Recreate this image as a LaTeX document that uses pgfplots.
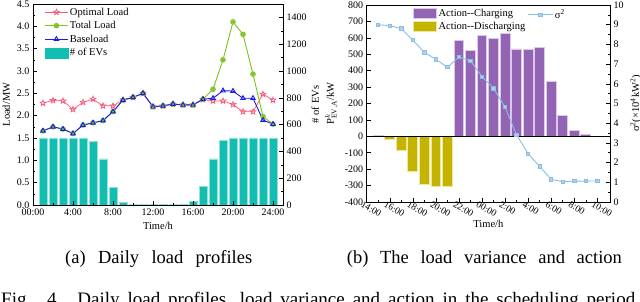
\documentclass[border=0pt]{standalone}
\usepackage{fontspec}
\setmainfont{Liberation Serif}
\usepackage{pgfplots}
\pgfplotsset{compat=1.18}
\definecolor{optc}{HTML}{F4587A}
\definecolor{totc}{HTML}{7DC21E}
\definecolor{basec}{HTML}{1A1AF0}
\definecolor{evc}{HTML}{12BDB2}
\definecolor{chc}{HTML}{9464B4}
\definecolor{chl}{HTML}{DCC8EA}
\definecolor{dic}{HTML}{C4B400}
\definecolor{dil}{HTML}{EFE7A0}
\definecolor{sigc}{HTML}{8BBEE2}
\pgfdeclareplotmark{ostar}{%
  \pgfpathmoveto{\pgfpointpolar{90}{\pgfplotmarksize}}%
  \pgfpathlineto{\pgfpointpolar{126}{0.42\pgfplotmarksize}}%
  \pgfpathlineto{\pgfpointpolar{162}{\pgfplotmarksize}}%
  \pgfpathlineto{\pgfpointpolar{198}{0.42\pgfplotmarksize}}%
  \pgfpathlineto{\pgfpointpolar{234}{\pgfplotmarksize}}%
  \pgfpathlineto{\pgfpointpolar{270}{0.42\pgfplotmarksize}}%
  \pgfpathlineto{\pgfpointpolar{306}{\pgfplotmarksize}}%
  \pgfpathlineto{\pgfpointpolar{342}{0.42\pgfplotmarksize}}%
  \pgfpathlineto{\pgfpointpolar{18}{\pgfplotmarksize}}%
  \pgfpathlineto{\pgfpointpolar{54}{0.42\pgfplotmarksize}}%
  \pgfpathclose
  \pgfusepathqstroke}
\pgfdeclareplotmark{oast}{%
  \pgfpathcircle{\pgfpointorigin}{\pgfplotmarksize}%
  \pgfusepathqfillstroke
  \pgfpathmoveto{\pgfpointpolar{90}{\pgfplotmarksize}}\pgfpathlineto{\pgfpointpolar{270}{\pgfplotmarksize}}%
  \pgfpathmoveto{\pgfpointpolar{30}{\pgfplotmarksize}}\pgfpathlineto{\pgfpointpolar{210}{\pgfplotmarksize}}%
  \pgfpathmoveto{\pgfpointpolar{150}{\pgfplotmarksize}}\pgfpathlineto{\pgfpointpolar{330}{\pgfplotmarksize}}%
  \pgfusepathqstroke}
\begin{document}
\begin{tikzpicture}[x=1pt,y=1pt]
\path[use as bounding box] (0,0) rectangle (640,302);
\clip (0,0) rectangle (640,302);
\pgfplotsset{
  every axis/.append style={
    scale only axis,
    tick label style={font=\fontsize{10}{12}\selectfont},
    label style={font=\fontsize{10.5}{12}\selectfont},
    /pgf/number format/assume math mode=true,
    /pgf/number format/1000 sep={},
    tick style={black, line width=0.5pt},
    major tick length=4pt, minor tick length=2pt,
    axis line style={line width=0.7pt},
    legend cell align=left,
  },
  lineleg/.style={legend image code/.code={\draw[mark repeat=2,mark phase=2] plot coordinates {(0pt,0pt) (11.5pt,0pt) (23pt,0pt)};}},
}
% ---------- (a) left chart: EV bars on right axis
\begin{axis}[
  at={(33pt,97pt)}, anchor=south west, width=250pt, height=201pt,
  xmin=0, xmax=25, ymin=0, ymax=1500,
  xtick=\empty,
  ytick={0,200,...,1400}, minor y tick num=1, ytick pos=right, yticklabel pos=right,
  ylabel={\# of EVs}, ylabel style={yshift=2pt},
]
\addplot[ybar, bar shift=0pt, bar width=0.8, fill=evc, draw=evc!45!white, line width=0.4pt]
coordinates {(1,500)(2,500)(3,500)(4,500)(5,500)(6,475)(7,345)(8,130)(9,20)(10,4)(11,4)(12,4)(13,4)(14,4)(15,4)(16,28)(17,137)(18,345)(19,480)(20,500)(21,500)(22,500)(23,500)(24,500)};
\end{axis}
% ---------- (a) left chart: load lines on left axis
\begin{axis}[
  at={(33pt,97pt)}, anchor=south west, width=250pt, height=201pt,
  xmin=0, xmax=25, ymin=0, ymax=4.5,
  ytick={0,0.5,...,4.5}, minor y tick num=1, ytick pos=left,
  yticklabel style={/pgf/number format/.cd, fixed, fixed zerofill, precision=1},
  xtick={0,4,...,24}, xticklabels={00:00,4:00,8:00,12:00,16:00,20:00,24:00},
  minor x tick num=1, xtick pos=bottom,
  xlabel={Time/h}, ylabel={Load/MW},
  lineleg,
  legend style={at={(0.045,0.99)}, anchor=north west, draw=none, fill=none,
    font=\fontsize{10.5}{12}\selectfont, row sep=1.5pt, inner sep=0pt, nodes={inner sep=1.6pt}},
]
\addplot[optc, line width=0.7pt, mark=ostar, mark size=3pt]
coordinates {(1,2.28)(2,2.34)(3,2.33)(4,2.14)(5,2.30)(6,2.37)(7,2.22)(8,2.22)(9,2.35)(10,2.41)(11,2.50)(12,2.20)(13,2.22)(14,2.26)(15,2.24)(16,2.24)(17,2.36)(18,2.33)(19,2.33)(20,2.25)(21,2.09)(22,2.09)(23,2.48)(24,2.35)};
\addplot[totc, line width=0.9pt, mark=oast, mark size=2.3pt, mark options={fill=totc!35!white}]
coordinates {(1,1.66)(2,1.75)(3,1.70)(4,1.60)(5,1.79)(6,1.84)(7,1.89)(8,2.09)(9,2.35)(10,2.41)(11,2.50)(12,2.20)(13,2.22)(14,2.26)(15,2.24)(16,2.24)(17,2.37)(18,2.59)(19,3.25)(20,4.10)(21,3.82)(22,2.93)(23,1.98)(24,1.81)};
\addplot[basec, line width=0.9pt, mark=triangle, mark size=2.6pt]
coordinates {(1,1.66)(2,1.75)(3,1.70)(4,1.60)(5,1.79)(6,1.84)(7,1.89)(8,2.09)(9,2.35)(10,2.41)(11,2.50)(12,2.20)(13,2.22)(14,2.26)(15,2.24)(16,2.24)(17,2.37)(18,2.39)(19,2.56)(20,2.55)(21,2.39)(22,2.39)(23,1.90)(24,1.81)};
\addlegendimage{legend image code/.code={\fill[evc] (0pt,-5.5pt) rectangle (23pt,5pt);}}
\legend{Optimal Load,Total Load,Baseload,\# of EVs}
\end{axis}
% ---------- (b) right chart: action bars on left axis
\begin{axis}[
  at={(366.7pt,100pt)}, anchor=south west, width=243.3pt, height=197pt,
  xmin=0, xmax=21.1, ymin=-400, ymax=800,
  ytick={-400,-300,...,800}, ytick pos=left,
  xtick={0,2,...,20}, xticklabels={14:00,16:00,18:00,20:00,22:00,00:00,2:00,4:00,6:00,8:00,10:00},
  minor x tick num=1, xtick pos=bottom,
  xticklabel style={rotate=-30, anchor=north west, inner sep=0.5pt, xshift=-4pt, font=\fontsize{9.5}{11}\selectfont},
  xlabel={Time/h}, xlabel style={yshift=1pt},
  ylabel={P$^{k}_{\mathrm{EV,A}}$/kW},
  legend style={at={(0.19,0.99)}, anchor=north west, draw=none, fill=none,
    font=\fontsize{10.5}{12}\selectfont, row sep=1pt, inner sep=0pt, nodes={inner sep=1.6pt}},
  legend image code/.code={\fill[#1] (0pt,-5.5pt) rectangle (23pt,5pt);},
]
\addplot[ybar, bar shift=0pt, bar width=0.85, fill=chc, draw=chl, line width=0.9pt]
coordinates {(1,5)(8,583)(9,522)(10,616)(11,597)(12,628)(13,532)(14,528)(15,543)(16,337)(17,126)(18,35)(19,10)};
\addplot[ybar, bar shift=0pt, bar width=0.85, fill=dic, draw=dil, line width=0.9pt]
coordinates {(2,-18)(3,-87)(4,-211)(5,-292)(6,-303)(7,-303)};
\legend{Action-{}-Charging,Action-{}-Discharging}
\draw[black, line width=0.9pt] (axis cs:0,0) -- (axis cs:21.1,0);
\end{axis}
% ---------- (b) right chart: sigma^2 on right axis
\begin{axis}[
  at={(366.7pt,100pt)}, anchor=south west, width=243.3pt, height=197pt,
  xmin=0, xmax=21.1, ymin=0, ymax=10,
  xtick=\empty,
  ytick={0,1,...,10}, minor y tick num=1, ytick pos=right, yticklabel pos=right,
  ylabel={σ\textsuperscript{2}(×10\textsuperscript{4}kW\textsuperscript{2})},
  legend image code/.code={\draw[mark repeat=2,mark phase=2] plot coordinates {(0pt,0pt) (12.5pt,0pt) (25pt,0pt)};},
  legend style={at={(0.66,0.95)}, anchor=west, draw=none, fill=none,
    font=\fontsize{10.5}{12}\selectfont, inner sep=0pt, nodes={inner sep=1.6pt}},
]
\addplot[sigc, line width=0.9pt, mark=square*, mark size=1.7pt, mark options={fill=sigc!70!white}]
coordinates {(1,9.0)(2,8.95)(3,8.8)(4,8.22)(5,7.6)(6,7.24)(7,6.84)(8,7.35)(9,7.17)(10,6.36)(11,5.77)(12,4.81)(13,3.4)(14,2.45)(15,1.8)(16,1.15)(17,1.03)(18,1.06)(19,1.06)(20,1.07)};
\legend{σ\textsuperscript{2}}
\end{axis}
% ---------- captions
\node[anchor=base west, inner sep=0pt, font=\fontsize{18.5}{20}\selectfont] at (65,38.7) {\makebox[187pt][s]{(a) Daily load profiles}};
\node[anchor=base west, inner sep=0pt, font=\fontsize{18.5}{20}\selectfont] at (346.7,38.7) {\makebox[275pt][s]{(b) The load variance and action}};
\node[anchor=base west, inner sep=0pt, font=\fontsize{19}{20}\selectfont] at (1,-4) {\makebox[634pt][s]{Fig. 4. Daily load profiles, load variance and action in the scheduling period}};
\end{tikzpicture}
\end{document}
